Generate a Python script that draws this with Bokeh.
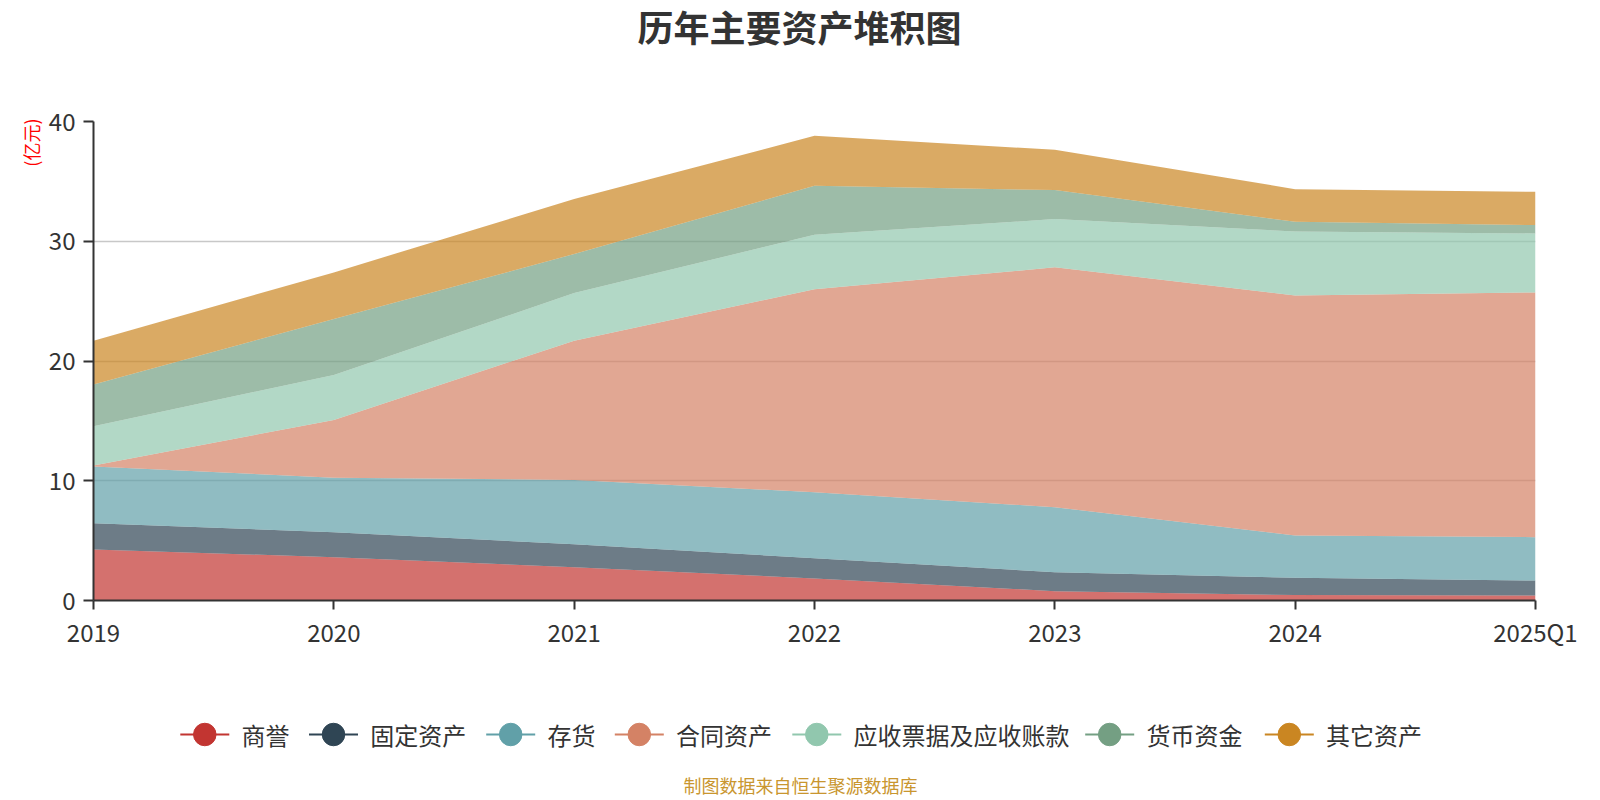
from bokeh.plotting import figure
from bokeh.layouts import column
from bokeh.models import ColumnDataSource, Range1d, FixedTicker, Title
from bokeh.core.properties import value
from bokeh.embed import file_html
from bokeh.resources import INLINE

# ---------------- data (亿元) ----------------
periods = ["2019", "2020", "2021", "2022", "2023", "2024", "2025Q1"]
series_names = ["商誉", "固定资产", "存货", "合同资产", "应收票据及应收账款", "货币资金", "其它资产"]
goodwill    = [4.26, 3.62, 2.78, 1.84, 0.78, 0.45, 0.42]
fixed       = [2.19, 2.08, 1.92, 1.69, 1.58, 1.44, 1.25]
inventory   = [4.73, 4.56, 5.37, 5.51, 5.43, 3.53, 3.62]
contract    = [0.09, 4.82, 11.63, 16.96, 20.03, 20.06, 20.44]
receivable  = [3.28, 3.75, 3.97, 4.54, 4.03, 5.34, 4.92]
cash        = [3.48, 4.67, 3.26, 4.09, 2.42, 0.81, 0.70]
other       = [3.67, 3.90, 4.59, 4.17, 3.37, 2.72, 2.78]
y_ticks = [0, 10, 20, 30, 40]

colors = ["#c23531", "#2f4554", "#61a0a8", "#d48265", "#91c7ae", "#749f83", "#ca8622"]
FONT = "Noto Sans CJK SC"

keys = ["s0", "s1", "s2", "s3", "s4", "s5", "s6"]
source = ColumnDataSource(dict(
    x=list(range(len(periods))),
    s0=goodwill, s1=fixed, s2=inventory, s3=contract,
    s4=receivable, s5=cash, s6=other,
))

# ---------------- layout constants ----------------
W = 1584
L = 93
FW = 1442
R = W - L - FW
H_TOP = 60
H_MAIN = 620
H_LEG = 118
T, FH = 61, 479
B = H_MAIN - T - FH


def helper_fig(h):
    f = figure(width=W, height=h, output_backend="svg", toolbar_location=None,
               x_range=Range1d(L, L + FW), y_range=Range1d(0, h),
               min_border_left=L, min_border_right=R, min_border_top=0, min_border_bottom=0)
    f.axis.visible = False
    f.grid.visible = False
    f.outline_line_color = None
    f.background_fill_color = "white"
    f.border_fill_color = "white"
    return f


# ---------------- title figure ----------------
tf = helper_fig(H_TOP)
tf.text(x=[799], y=[H_TOP - 25], text=["历年主要资产堆积图"],
        text_font=value(FONT), text_font_size="36px", text_font_style="bold",
        text_color="#333333", text_align="center", text_baseline="middle")

# ---------------- main figure ----------------
p = figure(width=W, height=H_MAIN, output_backend="svg", toolbar_location=None,
           x_range=Range1d(0, len(periods) - 1), y_range=Range1d(0, 40),
           min_border_left=L, min_border_right=R, min_border_top=T, min_border_bottom=B)
p.outline_line_color = None
p.background_fill_color = "white"
p.border_fill_color = "white"

p.varea_stack(stackers=keys, x="x", color=colors, fill_alpha=0.7, source=source)

p.xaxis.ticker = FixedTicker(ticks=list(range(len(periods))))
p.xaxis.major_label_overrides = {i: s for i, s in enumerate(periods)}
p.yaxis.ticker = FixedTicker(ticks=y_ticks)
for ax in (p.xaxis[0], p.yaxis[0]):
    ax.axis_line_color = "#333333"
    ax.axis_line_width = 2
    ax.major_tick_line_color = "#333333"
    ax.major_tick_line_width = 2
    ax.major_tick_in = 0
    ax.minor_tick_line_color = None
    ax.major_label_text_font = FONT
    ax.major_label_text_font_size = "24px"
    ax.major_label_text_color = "#333333"
p.xaxis.major_tick_out = 9
p.xaxis.major_label_standoff = 4
p.yaxis.major_tick_out = 10
p.yaxis.major_label_standoff = 8

p.xgrid.grid_line_color = None
p.ygrid.ticker = FixedTicker(ticks=y_ticks)
p.ygrid.grid_line_color = "#c8c8c8"
p.ygrid.grid_line_width = 1.5

unit = Title(text="(亿元)", align="right", text_font=FONT, text_font_size="18px",
             text_font_style="normal", text_color="#ff0000", offset=-3, standoff=4)
p.add_layout(unit, "left")

# ---------------- legend / footer figure ----------------
q = helper_fig(H_LEG)
BOTTOM = H_TOP + H_MAIN + H_LEG
leg_cx = [204.3, 333, 510.2, 638.8, 816.3, 1109.2, 1288.8]
leg_y = BOTTOM - 734
half = 24.5
n = len(leg_cx)
q.segment(x0=[c - half for c in leg_cx], y0=[leg_y] * n,
          x1=[c + half for c in leg_cx], y1=[leg_y] * n,
          line_color=colors, line_width=2)
q.scatter(x=leg_cx, y=[leg_y] * n, size=22.5, marker="circle",
          fill_color=colors, line_color=colors)
q.text(x=[c + 36.7 for c in leg_cx], y=[leg_y] * n, text=series_names,
       text_font=value(FONT), text_font_size="24px", text_color="#333333",
       text_align="left", text_baseline="middle")
q.text(x=[800], y=[BOTTOM - 784], text=["制图数据来自恒生聚源数据库"],
       text_font=value(FONT), text_font_size="18px", text_color="#c9962f",
       text_align="center", text_baseline="middle")

layout = column(tf, p, q, spacing=0)
open("out.html", "w").write(file_html(layout, INLINE))
